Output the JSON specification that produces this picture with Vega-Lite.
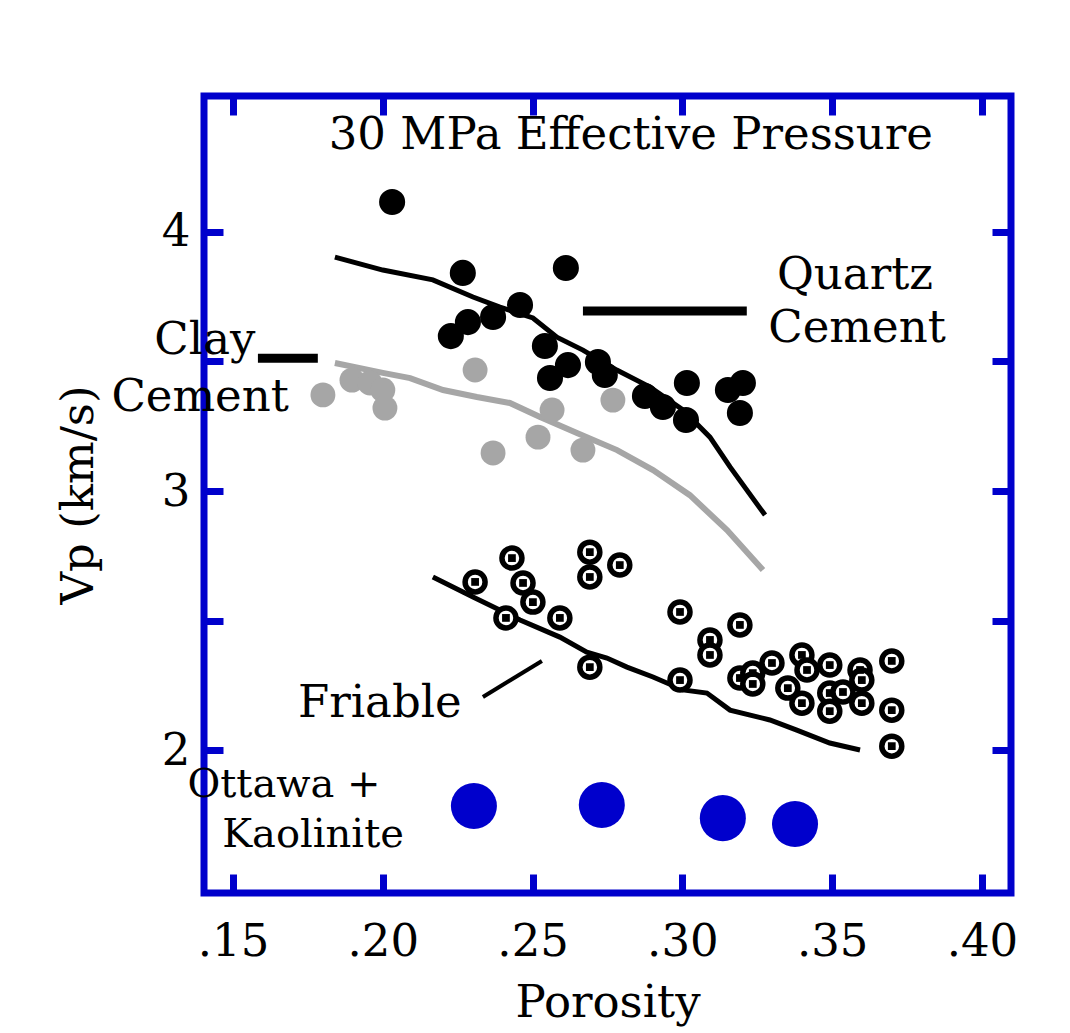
{
  "$schema": "https://vega.github.io/schema/vega-lite/v6.json",
  "width": 807,
  "height": 797,
  "autosize": {"type": "none"},
  "padding": {"left": 204, "top": 96, "right": 59, "bottom": 140},
  "background": "white",
  "config": {
    "view": {"stroke": "#0000cc", "strokeWidth": 7},
    "axis": {
      "domain": false,
      "grid": false,
      "tickColor": "#0000cc",
      "tickWidth": 7,
      "tickSize": -19,
      "labelFont": "DejaVu Serif",
      "labelFontSize": 45,
      "labelColor": "black",
      "titleFont": "DejaVu Serif",
      "titleFontSize": 45,
      "titleFontWeight": "normal",
      "titleColor": "black"
    }
  },
  "datasets": {
    "curves": [
      {"series": "quartz", "order": 1, "porosity": 0.1840, "vp": 3.903},
      {"series": "quartz", "order": 2, "porosity": 0.2000, "vp": 3.853},
      {"series": "quartz", "order": 3, "porosity": 0.2167, "vp": 3.815},
      {"series": "quartz", "order": 4, "porosity": 0.2301, "vp": 3.749},
      {"series": "quartz", "order": 5, "porosity": 0.2391, "vp": 3.710},
      {"series": "quartz", "order": 6, "porosity": 0.2501, "vp": 3.668},
      {"series": "quartz", "order": 7, "porosity": 0.2581, "vp": 3.594},
      {"series": "quartz", "order": 8, "porosity": 0.2668, "vp": 3.544},
      {"series": "quartz", "order": 9, "porosity": 0.2781, "vp": 3.467},
      {"series": "quartz", "order": 10, "porosity": 0.2892, "vp": 3.401},
      {"series": "quartz", "order": 11, "porosity": 0.3002, "vp": 3.313},
      {"series": "quartz", "order": 12, "porosity": 0.3092, "vp": 3.208},
      {"series": "quartz", "order": 13, "porosity": 0.3159, "vp": 3.093},
      {"series": "quartz", "order": 14, "porosity": 0.3276, "vp": 2.907},
      {"series": "clay", "order": 1, "porosity": 0.1840, "vp": 3.494},
      {"series": "clay", "order": 2, "porosity": 0.2000, "vp": 3.456},
      {"series": "clay", "order": 3, "porosity": 0.2091, "vp": 3.436},
      {"series": "clay", "order": 4, "porosity": 0.2201, "vp": 3.390},
      {"series": "clay", "order": 5, "porosity": 0.2314, "vp": 3.363},
      {"series": "clay", "order": 6, "porosity": 0.2424, "vp": 3.340},
      {"series": "clay", "order": 7, "porosity": 0.2525, "vp": 3.286},
      {"series": "clay", "order": 8, "porosity": 0.2648, "vp": 3.224},
      {"series": "clay", "order": 9, "porosity": 0.2782, "vp": 3.158},
      {"series": "clay", "order": 10, "porosity": 0.2902, "vp": 3.081},
      {"series": "clay", "order": 11, "porosity": 0.3025, "vp": 2.984},
      {"series": "clay", "order": 12, "porosity": 0.3149, "vp": 2.849},
      {"series": "clay", "order": 13, "porosity": 0.3269, "vp": 2.695},
      {"series": "friable", "order": 1, "porosity": 0.2167, "vp": 2.668},
      {"series": "friable", "order": 2, "porosity": 0.2301, "vp": 2.591},
      {"series": "friable", "order": 3, "porosity": 0.2458, "vp": 2.502},
      {"series": "friable", "order": 4, "porosity": 0.2591, "vp": 2.436},
      {"series": "friable", "order": 5, "porosity": 0.2681, "vp": 2.378},
      {"series": "friable", "order": 6, "porosity": 0.2748, "vp": 2.355},
      {"series": "friable", "order": 7, "porosity": 0.2815, "vp": 2.320},
      {"series": "friable", "order": 8, "porosity": 0.2902, "vp": 2.282},
      {"series": "friable", "order": 9, "porosity": 0.3002, "vp": 2.232},
      {"series": "friable", "order": 10, "porosity": 0.3082, "vp": 2.220},
      {"series": "friable", "order": 11, "porosity": 0.3159, "vp": 2.154},
      {"series": "friable", "order": 12, "porosity": 0.3292, "vp": 2.116},
      {"series": "friable", "order": 13, "porosity": 0.3382, "vp": 2.077},
      {"series": "friable", "order": 14, "porosity": 0.3492, "vp": 2.027},
      {"series": "friable", "order": 15, "porosity": 0.3593, "vp": 2.000}
    ],
    "points": [
      {"group": "quartz", "porosity": 0.2031, "vp": 4.116},
      {"group": "quartz", "porosity": 0.2267, "vp": 3.842},
      {"group": "quartz", "porosity": 0.2611, "vp": 3.861},
      {"group": "quartz", "porosity": 0.2458, "vp": 3.718},
      {"group": "quartz", "porosity": 0.2368, "vp": 3.672},
      {"group": "quartz", "porosity": 0.2284, "vp": 3.652},
      {"group": "quartz", "porosity": 0.2227, "vp": 3.598},
      {"group": "quartz", "porosity": 0.2541, "vp": 3.560},
      {"group": "quartz", "porosity": 0.2558, "vp": 3.436},
      {"group": "quartz", "porosity": 0.2618, "vp": 3.486},
      {"group": "quartz", "porosity": 0.2718, "vp": 3.498},
      {"group": "quartz", "porosity": 0.2741, "vp": 3.448},
      {"group": "quartz", "porosity": 0.2875, "vp": 3.367},
      {"group": "quartz", "porosity": 0.2935, "vp": 3.324},
      {"group": "quartz", "porosity": 0.3015, "vp": 3.417},
      {"group": "quartz", "porosity": 0.3012, "vp": 3.274},
      {"group": "quartz", "porosity": 0.3152, "vp": 3.390},
      {"group": "quartz", "porosity": 0.3202, "vp": 3.417},
      {"group": "quartz", "porosity": 0.3192, "vp": 3.301},
      {"group": "clay", "porosity": 0.1800, "vp": 3.371},
      {"group": "clay", "porosity": 0.1897, "vp": 3.428},
      {"group": "clay", "porosity": 0.1957, "vp": 3.417},
      {"group": "clay", "porosity": 0.2000, "vp": 3.390},
      {"group": "clay", "porosity": 0.2007, "vp": 3.320},
      {"group": "clay", "porosity": 0.2308, "vp": 3.467},
      {"group": "clay", "porosity": 0.2368, "vp": 3.147},
      {"group": "clay", "porosity": 0.2518, "vp": 3.208},
      {"group": "clay", "porosity": 0.2565, "vp": 3.313},
      {"group": "clay", "porosity": 0.2668, "vp": 3.158},
      {"group": "clay", "porosity": 0.2768, "vp": 3.351},
      {"group": "friable", "porosity": 0.2308, "vp": 2.649},
      {"group": "friable", "porosity": 0.2431, "vp": 2.741},
      {"group": "friable", "porosity": 0.2468, "vp": 2.645},
      {"group": "friable", "porosity": 0.2501, "vp": 2.571},
      {"group": "friable", "porosity": 0.2411, "vp": 2.510},
      {"group": "friable", "porosity": 0.2591, "vp": 2.510},
      {"group": "friable", "porosity": 0.2691, "vp": 2.764},
      {"group": "friable", "porosity": 0.2691, "vp": 2.668},
      {"group": "friable", "porosity": 0.2791, "vp": 2.714},
      {"group": "friable", "porosity": 0.2691, "vp": 2.320},
      {"group": "friable", "porosity": 0.2992, "vp": 2.533},
      {"group": "friable", "porosity": 0.3092, "vp": 2.425},
      {"group": "friable", "porosity": 0.3092, "vp": 2.367},
      {"group": "friable", "porosity": 0.3192, "vp": 2.483},
      {"group": "friable", "porosity": 0.2992, "vp": 2.270},
      {"group": "friable", "porosity": 0.3192, "vp": 2.278},
      {"group": "friable", "porosity": 0.3235, "vp": 2.297},
      {"group": "friable", "porosity": 0.3235, "vp": 2.255},
      {"group": "friable", "porosity": 0.3299, "vp": 2.336},
      {"group": "friable", "porosity": 0.3399, "vp": 2.367},
      {"group": "friable", "porosity": 0.3416, "vp": 2.309},
      {"group": "friable", "porosity": 0.3352, "vp": 2.239},
      {"group": "friable", "porosity": 0.3399, "vp": 2.181},
      {"group": "friable", "porosity": 0.3492, "vp": 2.328},
      {"group": "friable", "porosity": 0.3492, "vp": 2.220},
      {"group": "friable", "porosity": 0.3492, "vp": 2.150},
      {"group": "friable", "porosity": 0.3536, "vp": 2.224},
      {"group": "friable", "porosity": 0.3593, "vp": 2.309},
      {"group": "friable", "porosity": 0.3599, "vp": 2.270},
      {"group": "friable", "porosity": 0.3599, "vp": 2.181},
      {"group": "friable", "porosity": 0.3699, "vp": 2.344},
      {"group": "friable", "porosity": 0.3699, "vp": 2.154},
      {"group": "friable", "porosity": 0.3699, "vp": 2.015},
      {"group": "ottawa", "porosity": 0.2304, "vp": 1.784},
      {"group": "ottawa", "porosity": 0.2731, "vp": 1.788},
      {"group": "ottawa", "porosity": 0.3135, "vp": 1.737},
      {"group": "ottawa", "porosity": 0.3376, "vp": 1.714}
    ],
    "labels": [
      {"text": "30 MPa Effective Pressure", "kind": "main", "porosity": 0.2828, "vp": 4.374},
      {"text": "Quartz", "kind": "main", "porosity": 0.3576, "vp": 3.834},
      {"text": "Cement", "kind": "main", "porosity": 0.3583, "vp": 3.629},
      {"text": "Clay", "kind": "main", "porosity": 0.1406, "vp": 3.583},
      {"text": "Cement", "kind": "main", "porosity": 0.1390, "vp": 3.363},
      {"text": "Friable", "kind": "main", "porosity": 0.1990, "vp": 2.181},
      {"text": "Ottawa +", "kind": "ottawa", "porosity": 0.1670, "vp": 1.866},
      {"text": "Kaolinite", "kind": "ottawa", "porosity": 0.1767, "vp": 1.670}
    ],
    "segments": [
      {"seg": "quartz", "weight": "thick", "porosity": 0.2668, "vp": 3.695},
      {"seg": "quartz", "weight": "thick", "porosity": 0.3215, "vp": 3.695},
      {"seg": "clay", "weight": "thick", "porosity": 0.1583, "vp": 3.513},
      {"seg": "clay", "weight": "thick", "porosity": 0.1783, "vp": 3.513},
      {"seg": "friable", "weight": "thin", "porosity": 0.2334, "vp": 2.205},
      {"seg": "friable", "weight": "thin", "porosity": 0.2531, "vp": 2.344}
    ]
  },
  "resolve": {"axis": {"x": "independent", "y": "independent"}},
  "layer": [
    {
      "data": {"name": "curves"},
      "transform": [{"filter": "datum.series === 'clay'"}],
      "mark": {"type": "line", "color": "#a6a6a6", "strokeWidth": 6},
      "encoding": {
        "x": {
          "field": "porosity", "type": "quantitative",
          "scale": {"domain": [0.1403, 0.4097], "nice": false, "zero": false},
          "axis": {
            "orient": "bottom",
            "values": [0.15, 0.2, 0.25, 0.3, 0.35, 0.4],
            "labelExpr": "replace(format(datum.value, '.2f'), '0.', '.')",
            "labelPadding": 45,
            "title": "Porosity",
            "titlePadding": 16
          }
        },
        "y": {
          "field": "vp", "type": "quantitative",
          "scale": {"domain": [1.448, 4.525], "nice": false, "zero": false},
          "axis": {
            "orient": "left",
            "values": [2, 2.5, 3, 3.5, 4],
            "labelExpr": "datum.value % 1 === 0 ? format(datum.value, 'd') : ''",
            "labelPadding": 33,
            "title": "Vp (km/s)",
            "titlePadding": 60
          }
        },
        "order": {"field": "order", "type": "quantitative"}
      }
    },
    {
      "data": {"name": "curves"},
      "transform": [{"filter": "datum.series !== 'clay'"}],
      "mark": {"type": "line", "color": "black", "strokeWidth": 5},
      "encoding": {
        "x": {"field": "porosity", "type": "quantitative", "axis": null},
        "y": {"field": "vp", "type": "quantitative", "axis": null},
        "detail": {"field": "series"},
        "order": {"field": "order", "type": "quantitative"}
      }
    },
    {
      "data": {"name": "points"},
      "transform": [{"filter": "datum.group === 'clay'"}],
      "mark": {"type": "point", "shape": "circle", "filled": true, "color": "#a6a6a6", "opacity": 1, "size": 620},
      "encoding": {
        "x": {"field": "porosity", "type": "quantitative", "axis": null},
        "y": {"field": "vp", "type": "quantitative", "axis": null}
      }
    },
    {
      "data": {"name": "points"},
      "transform": [{"filter": "datum.group === 'quartz'"}],
      "mark": {"type": "point", "shape": "circle", "filled": true, "color": "black", "opacity": 1, "size": 680},
      "encoding": {
        "x": {"field": "porosity", "type": "quantitative", "axis": null},
        "y": {"field": "vp", "type": "quantitative", "axis": null}
      }
    },
    {
      "data": {"name": "points"},
      "transform": [{"filter": "datum.group === 'friable'"}],
      "mark": {"type": "point", "shape": "circle", "filled": false, "fill": "white", "fillOpacity": 1, "stroke": "black", "strokeOpacity": 1, "strokeWidth": 5.5, "size": 400},
      "encoding": {
        "x": {"field": "porosity", "type": "quantitative", "axis": null},
        "y": {"field": "vp", "type": "quantitative", "axis": null}
      }
    },
    {
      "data": {"name": "points"},
      "transform": [{"filter": "datum.group === 'friable'"}],
      "mark": {"type": "point", "shape": "square", "filled": true, "color": "black", "opacity": 1, "size": 60},
      "encoding": {
        "x": {"field": "porosity", "type": "quantitative", "axis": null},
        "y": {"field": "vp", "type": "quantitative", "axis": null}
      }
    },
    {
      "data": {"name": "points"},
      "transform": [{"filter": "datum.group === 'ottawa'"}],
      "mark": {"type": "point", "shape": "circle", "filled": true, "color": "#0000cc", "opacity": 1, "size": 2120},
      "encoding": {
        "x": {"field": "porosity", "type": "quantitative", "axis": null},
        "y": {"field": "vp", "type": "quantitative", "axis": null}
      }
    },
    {
      "data": {"name": "segments"},
      "transform": [{"filter": "datum.weight === 'thick'"}],
      "mark": {"type": "line", "color": "black", "strokeWidth": 9, "strokeCap": "butt"},
      "encoding": {
        "x": {"field": "porosity", "type": "quantitative", "axis": null},
        "y": {"field": "vp", "type": "quantitative", "axis": null},
        "detail": {"field": "seg"}
      }
    },
    {
      "data": {"name": "segments"},
      "transform": [{"filter": "datum.weight === 'thin'"}],
      "mark": {"type": "line", "color": "black", "strokeWidth": 4, "strokeCap": "butt"},
      "encoding": {
        "x": {"field": "porosity", "type": "quantitative", "axis": null},
        "y": {"field": "vp", "type": "quantitative", "axis": null},
        "detail": {"field": "seg"}
      }
    },
    {
      "data": {"name": "labels"},
      "transform": [{"filter": "datum.kind === 'ottawa'"}],
      "mark": {"type": "text", "font": "DejaVu Serif", "fontSize": 40, "color": "black", "align": "center", "baseline": "middle", "clip": false},
      "encoding": {
        "x": {"field": "porosity", "type": "quantitative", "axis": null},
        "y": {"field": "vp", "type": "quantitative", "axis": null},
        "text": {"field": "text"}
      }
    },
    {
      "data": {"name": "labels"},
      "transform": [{"filter": "datum.kind === 'main'"}],
      "mark": {"type": "text", "font": "DejaVu Serif", "fontSize": 45, "color": "black", "align": "center", "baseline": "middle", "clip": false},
      "encoding": {
        "x": {
          "field": "porosity", "type": "quantitative",
          "axis": {"orient": "top", "values": [0.15, 0.2, 0.25, 0.3, 0.35, 0.4], "labels": false, "title": null}
        },
        "y": {
          "field": "vp", "type": "quantitative",
          "axis": {"orient": "right", "values": [2, 2.5, 3, 3.5, 4], "labels": false, "title": null}
        },
        "text": {"field": "text"}
      }
    }
  ]
}
